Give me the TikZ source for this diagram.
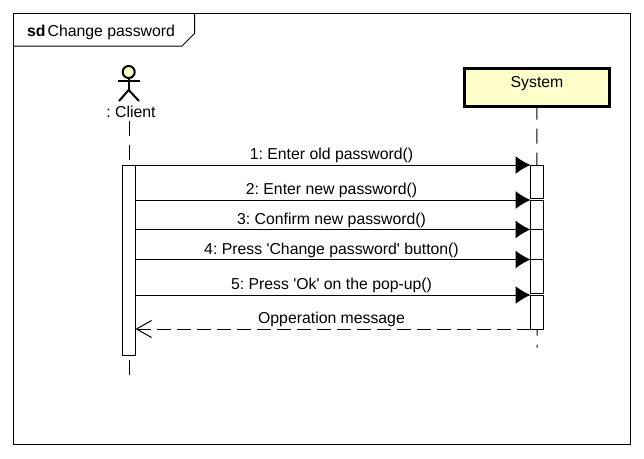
\documentclass[tikz,border=0pt]{standalone}
\usepackage{fontspec}
\setmainfont{Liberation Sans}
\usepackage{xcolor}
\usetikzlibrary{arrows.meta,positioning}
\definecolor{notefill}{HTML}{FFFFCC}

\begin{document}
\frenchspacing
\begin{tikzpicture}[
  x=1pt, y=-1pt,
  lbl/.style={font=\fontsize{15.8}{18}\selectfont, inner sep=0pt},
  mlbl/.style={lbl, midway, above=1.5pt, xshift=-1.5pt},
  frm/.style={draw, line width=1pt, minimum width=616.5pt, minimum height=430.5pt,
              anchor=north west, inner sep=0pt, outer sep=0pt},
  sysbox/.style={draw, line width=3pt, fill=notefill, minimum width=145.5pt, minimum height=38.5pt,
                 anchor=north west, inner sep=0pt, outer sep=0pt},
  act/.style={draw, line width=1pt, fill=white, minimum width=13pt, anchor=north west,
              inner sep=0pt, outer sep=0pt},
  life/.style={line width=1pt, dash pattern=on 15pt off 9pt},
  msg/.style={line width=1pt, -{Latex[length=15pt, width=18pt, black]}},
  ret/.style={line width=1pt, dash pattern=on 14pt off 6pt,
              {Straight Barb[length=15pt, width=17pt, line width=1pt]}-}]
  \useasboundingbox (0,0) rectangle (644,458);
  \fill[white] (0,0) rectangle (644,458);

  % frame and its tag
  \node[frm] (frame) at (13.5,13.5) {};
  \coordinate (tagtop) at (194.5,13.5);
  \coordinate (tagleft) at (13.5,46);
  \draw[line width=1pt] (tagtop) -- (194.5,33.5) -- (182,46) -- (tagleft);
  \node[lbl, anchor=west] (tag) at (27,32.5) {\textbf{sd}\kern2pt Change password};

  % actor
  \node[draw, circle, line width=2pt, fill=notefill, minimum size=12pt, inner sep=0pt, outer sep=0pt] (head) at (128.7,72) {};
  \coordinate (hip) at (128.7,90);
  \draw[line width=2pt] (head.south) -- (hip);
  \draw[line width=2pt] (118,81) -- (140,81);
  \draw[line width=2pt] (119,101) -- (hip) -- (139,101);
  \node[lbl] (client) at (131,111.5) {: Client};

  % system
  \node[sysbox] (system) at (464.2,68.2) {};
  \node[lbl] (systxt) at (537,84) {System};

  % lifelines
  \node[act, minimum height=190pt] (cact) at (122.5,165) {};
  \coordinate (cend) at (129,375);
  \coordinate (send) at (537,347.5);
  \draw[life, dash phase=0pt] (129,121) -- (129,165);
  \draw[line width=1pt] (129,360) -- (cend);
  \draw[life, dash phase=2pt] (system.south) -- (send);

  % activations on the system side
  \node[act, minimum height=33pt] (sa1) at (530.5,165) {};
  \node[act, minimum height=29.5pt] (sa2) at (530.5,200) {};
  \node[act, minimum height=30pt] (sa3) at (530.5,229.5) {};
  \node[act, minimum height=33.5pt] (sa4) at (530.5,259.5) {};
  \node[act, minimum height=34pt] (sa5) at (530.5,295) {};

  % messages
  \draw[msg] (cact.east |- sa1.north) -- (sa1.north west)
    node[mlbl] (m1) {1: Enter old password()};
  \draw[msg] (cact.east |- sa2.north) -- (sa2.north west)
    node[mlbl] (m2) {2: Enter new password()};
  \draw[msg] (cact.east |- sa3.north) -- (sa3.north west)
    node[mlbl] (m3) {3: Confirm new password()};
  \draw[msg] (cact.east |- sa4.north) -- (sa4.north west)
    node[mlbl] (m4) {4: Press \textquotesingle Change password\textquotesingle{} button()};
  \draw[msg] (cact.east |- sa5.north) -- (sa5.north west)
    node[mlbl] (m5) {5: Press \textquotesingle Ok\textquotesingle{} on the pop-up()};
  \draw[ret] (cact.east |- sa5.south) -- (sa5.south west)
    node[mlbl] (m6) {Opperation message};
\end{tikzpicture}
\end{document}
